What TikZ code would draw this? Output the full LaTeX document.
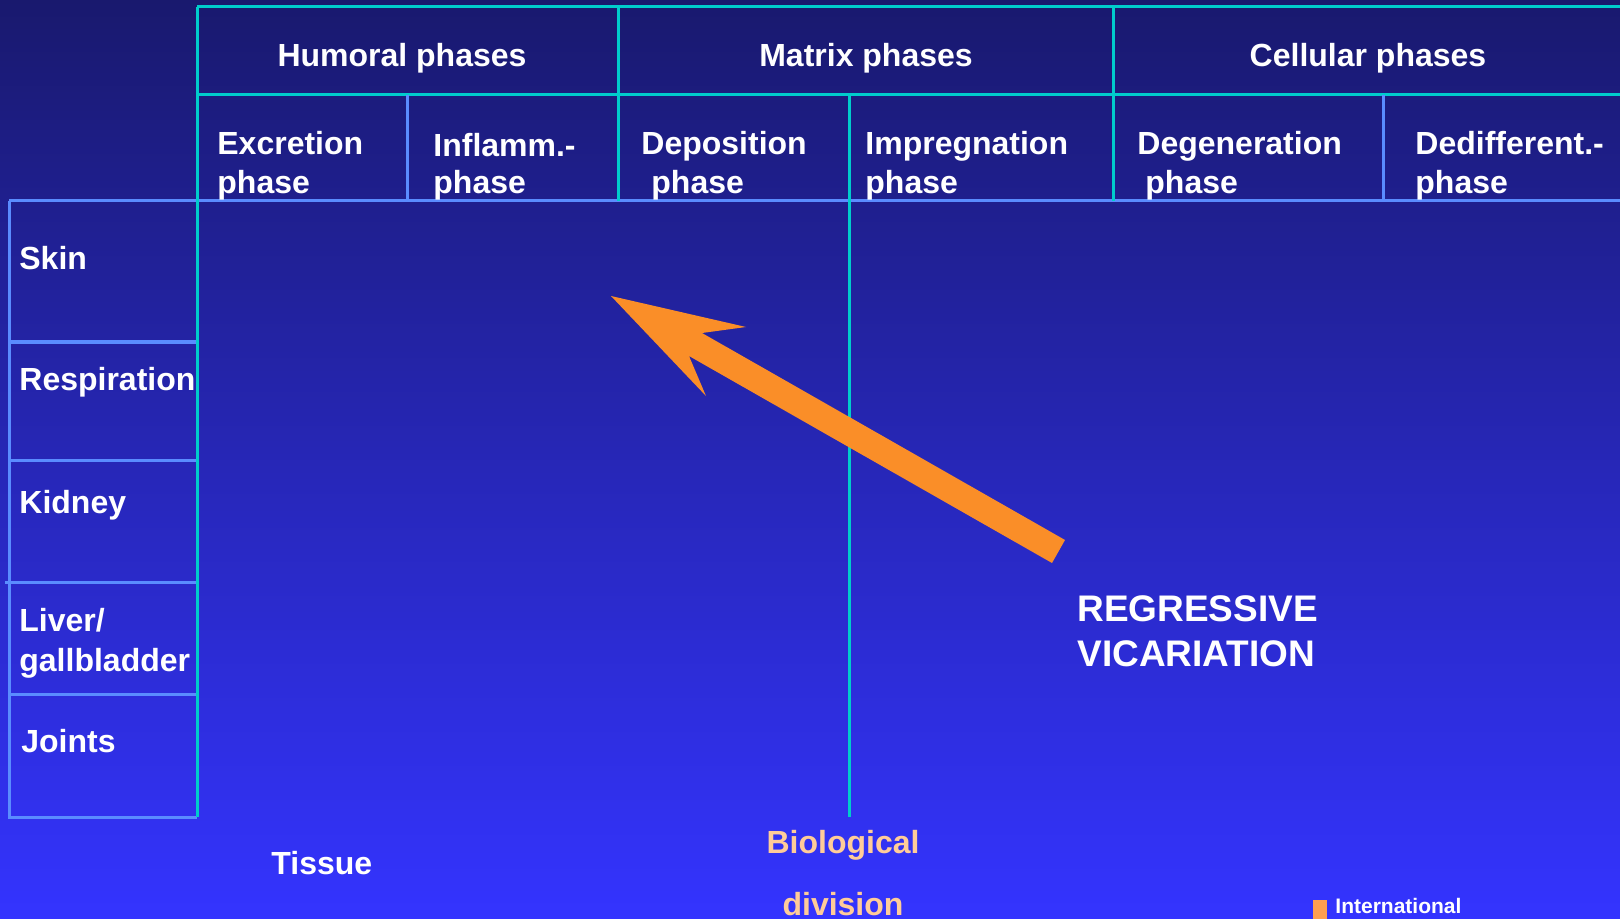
\documentclass[tikz,border=0pt]{standalone}
\usepackage{fontspec}
\setmainfont{Liberation Sans}
\definecolor{bgtop}{RGB}{25,25,110}
\definecolor{bgmid}{RGB}{40,40,208}
\definecolor{bgbot}{RGB}{52,52,255}
\definecolor{cyanline}{RGB}{0,204,204}
\definecolor{blueline}{RGB}{90,140,255}
\definecolor{arroworange}{RGB}{250,142,40}
\definecolor{peach}{RGB}{255,204,153}
\definecolor{sqorange}{RGB}{255,160,80}
\begin{document}
\begin{tikzpicture}[x=0.5pt,y=-0.5pt,
  cyanl/.style={draw=cyanline,line width=1.5pt},
  bluel/.style={draw=blueline,line width=1.5pt},
  lbl/.style={text=white,font=\fontsize{16}{19.5}\selectfont\bfseries,inner sep=0pt},
  hdr/.style={lbl,anchor=base},
  sub/.style={lbl,anchor=base west,align=left},
  big/.style={text=white,font=\fontsize{18.5}{22.5}\selectfont\bfseries,inner sep=0pt,anchor=base west,align=left},
  bio/.style={text=peach,font=\fontsize{16}{31}\selectfont\bfseries,inner sep=0pt,anchor=base,align=center},
  small/.style={text=white,font=\fontsize{10.5}{12}\selectfont\bfseries,inner sep=0pt,anchor=base west}
]
\useasboundingbox (0,0) rectangle (1620,919);
\shade[top color=bgtop,middle color=bgmid,bottom color=bgbot] (0,0) rectangle (1620,919);

% grid lines
\draw[cyanl] (197,7) -- (1620,7);
\draw[cyanl] (197,95) -- (1620,95);
\draw[bluel] (9,201) -- (1620,201);
\draw[cyanl] (618,7) -- (618,201);
\draw[cyanl] (1113,7) -- (1113,201);
\draw[bluel] (407,95) -- (407,201);
\draw[bluel] (1383,95) -- (1383,201);
\draw[cyanl] (849,95) -- (849,817);
\draw[bluel] (9,201) -- (9,817) -- (197,817);
\draw[bluel] (9,342) -- (197,342);
\draw[bluel] (9,460) -- (197,460);
\draw[bluel] (5,582) -- (197,582);
\draw[bluel] (9,694) -- (197,694);
\draw[cyanl] (197,7) -- (197,817);

% headers
\node[hdr] (hum) at (402,67) {Humoral phases};
\node[hdr] (mat) at (866,67) {Matrix phases};
\node[hdr] (cel) at (1368,67) {Cellular phases};

\node[sub] (exc) at (217,194) {Excretion\\phase};
\node[sub,font=\fontsize{16}{18.5}\selectfont\bfseries] (inf) at (433,194) {Inflamm.-\\phase};
\node[sub] (dep) at (641,194) {Deposition\\\hspace*{5pt}phase};
\node[sub] (imp) at (865,194) {Impregnation\\phase};
\node[sub] (deg) at (1137,194) {Degeneration\\\hspace*{4pt}phase};
\node[sub] (ded) at (1415,194) {Dedifferent.-\\phase};

% rows
\node[sub] (skin) at (19,270) {Skin};
\node[sub] (resp) at (19,390) {Respiration};
\node[sub] (kid) at (19,513) {Kidney};
\node[sub,font=\fontsize{16}{20}\selectfont\bfseries] (liv) at (19,671) {Liver/\\gallbladder};
\node[sub] (joi) at (21,752) {Joints};

% arrow
\fill[arroworange] (611,296) -- (746,327) -- (702,333) -- (1065,540) -- (1052,563) -- (689,356) -- (706,396) -- cycle;

\node[big] (reg) at (1077,666) {REGRESSIVE\\VICARIATION};
\node[sub] (tis) at (271,874) {Tissue};
\node[bio] (biol) at (843,915) {Biological\\division};
\fill[sqorange] (1313,900) rectangle (1327,919);
\node[small] (intl) at (1335,913) {International};
\end{tikzpicture}
\end{document}
